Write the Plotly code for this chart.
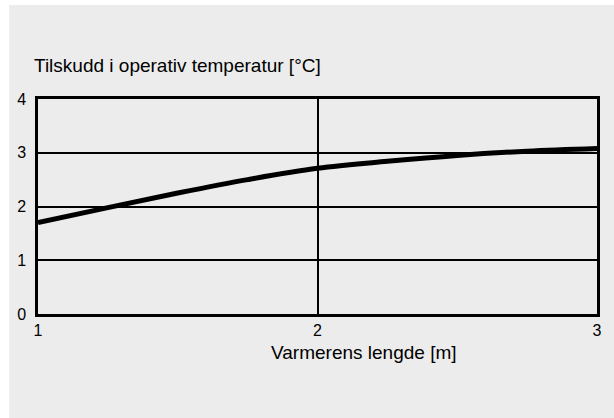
import plotly.graph_objects as go

x_vals = [1, 1.25, 1.5, 1.75, 2, 2.25, 2.5, 2.75, 3]
y_vals = [1.70, 1.98, 2.25, 2.50, 2.71, 2.84, 2.95, 3.03, 3.08]
x_ticks = [1, 2, 3]
y_ticks = [0, 1, 2, 3, 4]
y_title = "Tilskudd i operativ temperatur [°C]"
x_title = "Varmerens lengde [m]"

W, H = 614, 418
L, R, T, B = 38, 14, 99, 104
pw, ph = W - L - R, H - T - B

def px2paper_x(p):
    return (p - L) / pw

def px2paper_y(p):
    return (H - B - p) / ph

FONT = "Liberation Sans, Arial, sans-serif"

fig = go.Figure()
fig.add_trace(go.Scatter(x=x_vals, y=y_vals, mode="lines",
                         line=dict(color="black", width=5, shape="spline"),
                         hoverinfo="skip", showlegend=False))

fig.update_layout(
    width=W, height=H,
    margin=dict(l=L, r=R, t=T, b=B, pad=0),
    paper_bgcolor="white",
    plot_bgcolor="rgba(0,0,0,0)",
    font=dict(family=FONT, color="black", size=16),
    showlegend=False,
    shapes=[dict(type="rect", xref="paper", yref="paper", layer="below",
                 x0=px2paper_x(9), x1=px2paper_x(W + 5),
                 y0=px2paper_y(H + 5), y1=px2paper_y(5),
                 fillcolor="#ececec", line=dict(width=0))],
    annotations=[
        dict(text=y_title, xref="paper", yref="paper",
             x=px2paper_x(32), y=px2paper_y(66), xanchor="left", yanchor="middle",
             showarrow=False, font=dict(size=19, family=FONT)),
        dict(text=x_title, xref="paper", yref="paper",
             x=px2paper_x(366), y=px2paper_y(352), xanchor="center", yanchor="middle",
             showarrow=False, font=dict(size=19, family=FONT)),
    ],
)
fig.update_xaxes(range=[1, 3], tickvals=x_ticks, ticktext=[str(v) for v in x_ticks],
                 showgrid=True, gridcolor="black", gridwidth=2,
                 showline=True, linecolor="black", linewidth=2.5, mirror=True,
                 zeroline=False, ticks="", tickfont=dict(size=16), fixedrange=True)
fig.update_yaxes(range=[0, 4], tickvals=y_ticks, ticktext=[str(v) for v in y_ticks],
                 showgrid=True, gridcolor="black", gridwidth=2,
                 showline=True, linecolor="black", linewidth=2.5, mirror=True,
                 zeroline=False, ticks="", tickfont=dict(size=16), fixedrange=True,
                 ticklabelstandoff=6)

fig.write_html("out.html", config={"displayModeBar": False},
               post_script="document.body.style.margin='0';")
